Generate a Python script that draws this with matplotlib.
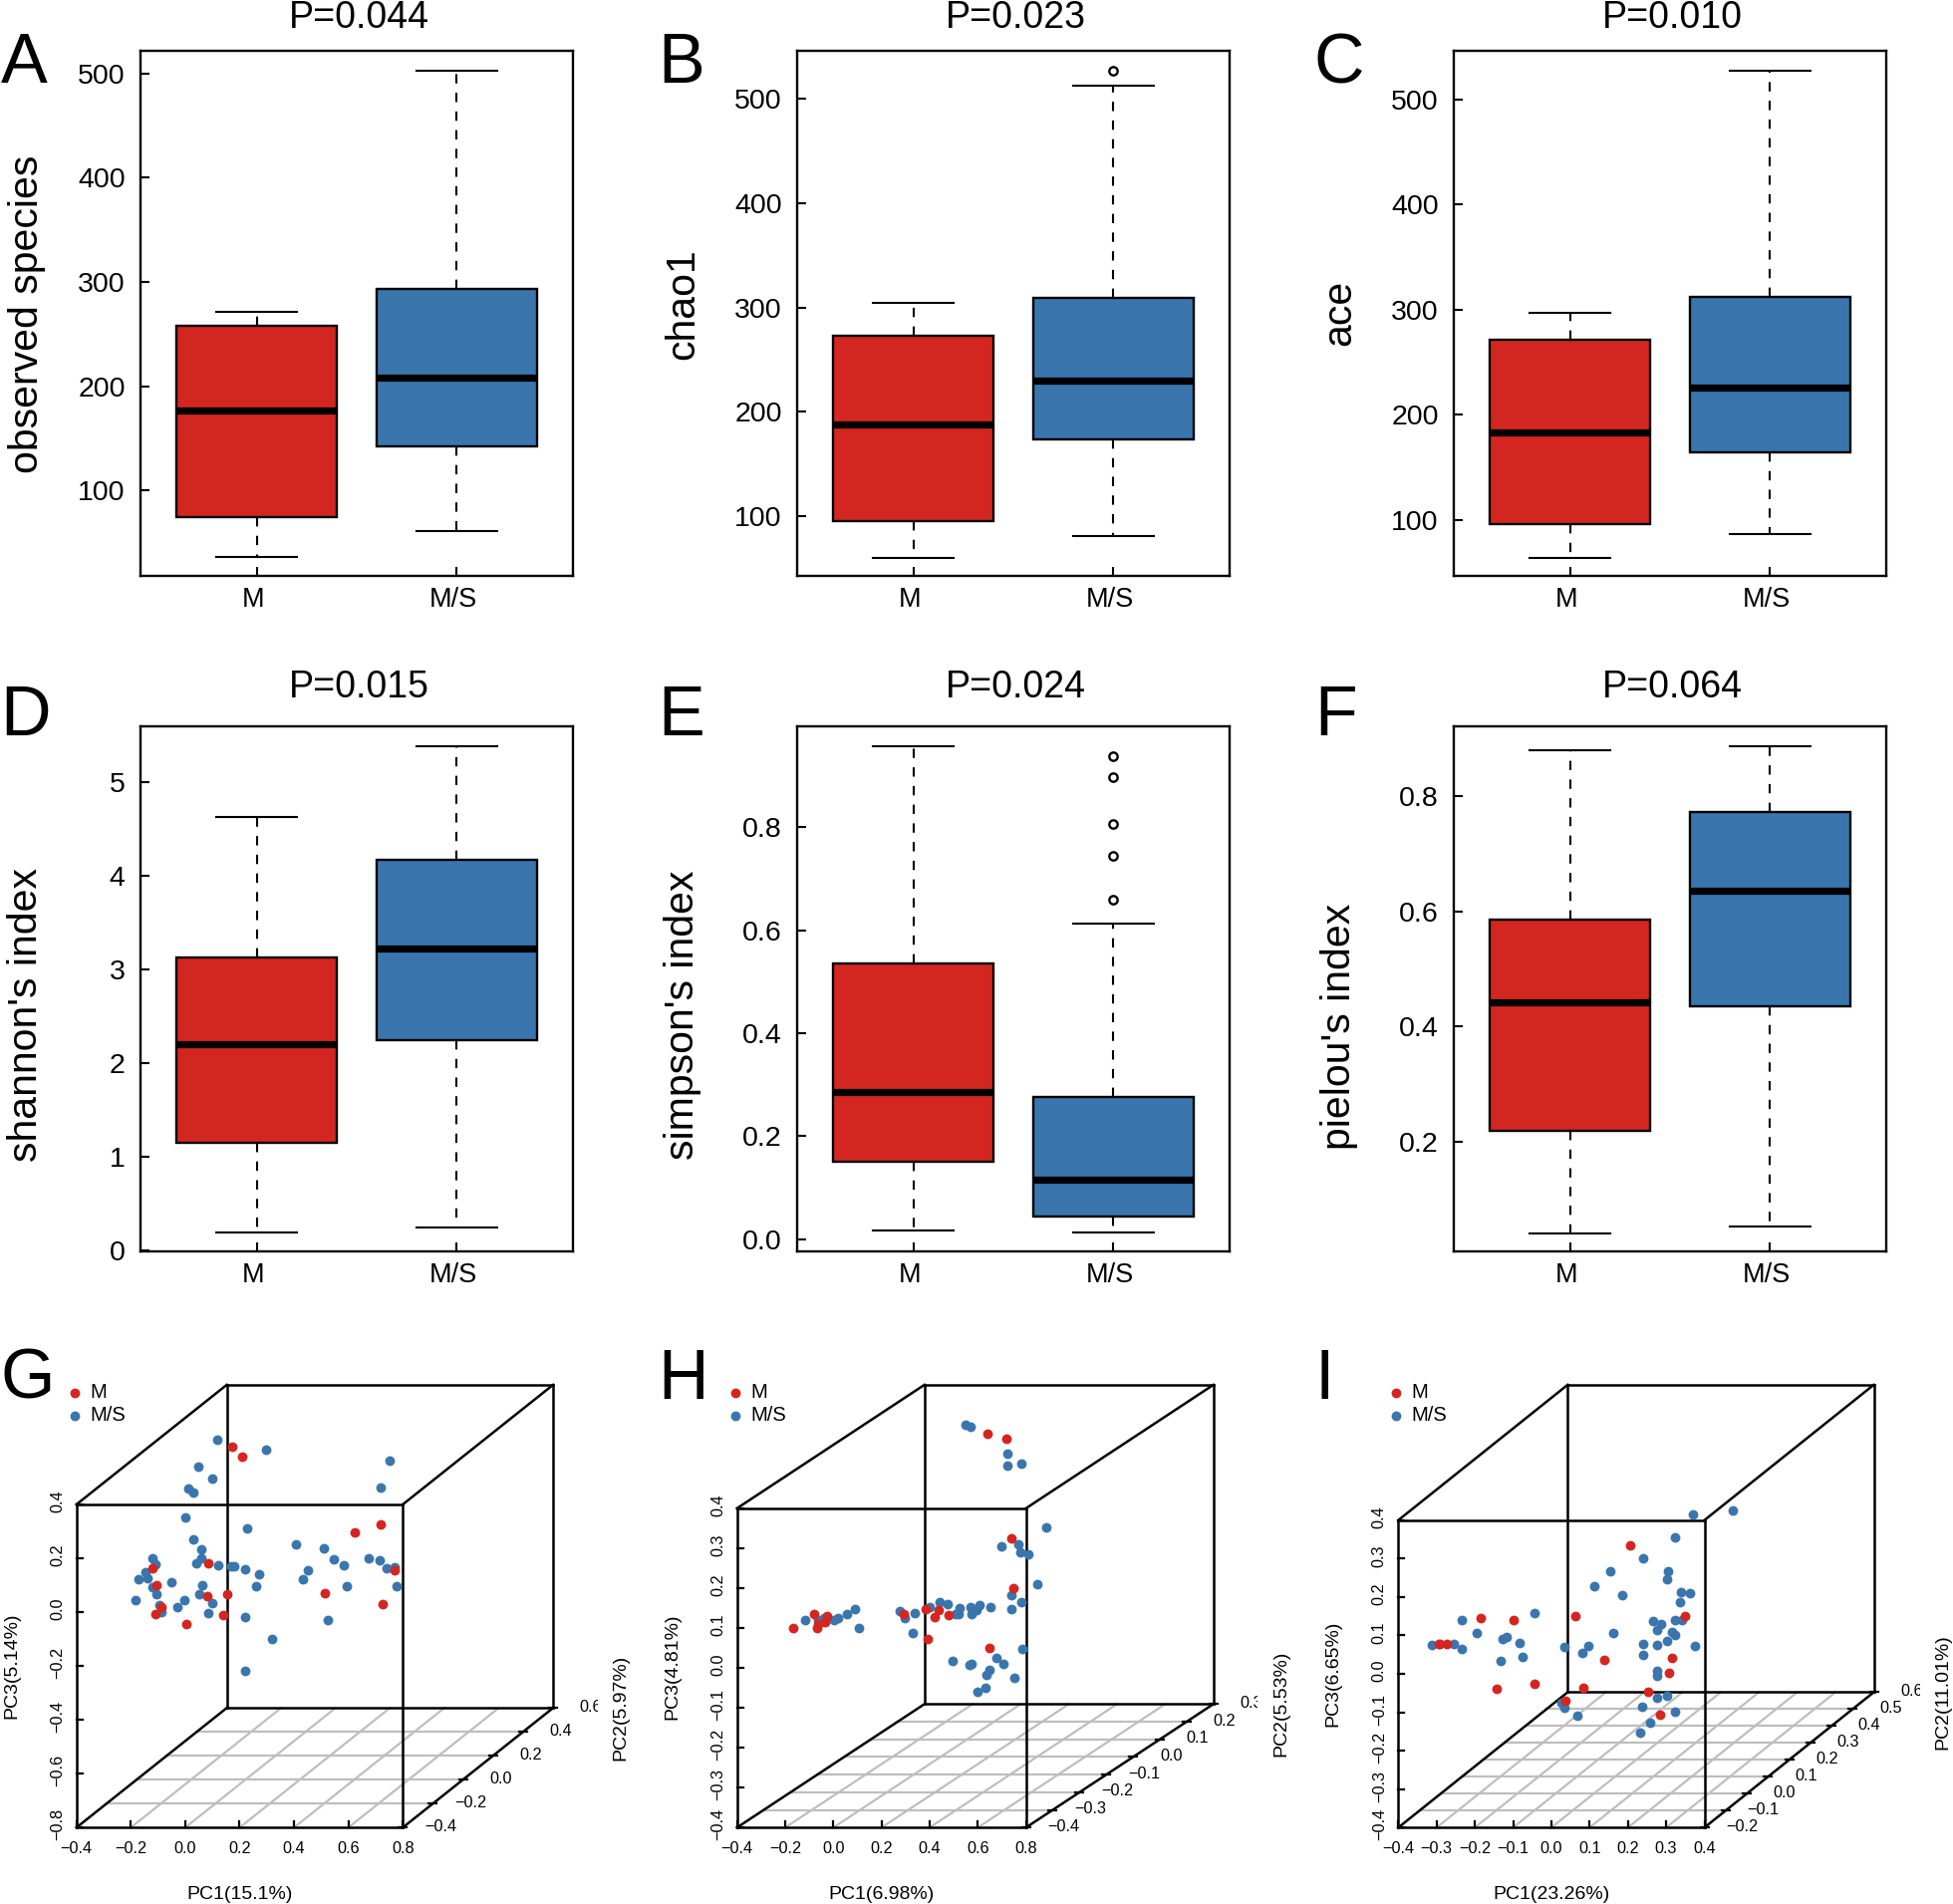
import matplotlib
matplotlib.use('Agg')
import matplotlib.pyplot as plt
from matplotlib.transforms import Affine2D, Bbox, ScaledTranslation

plt.rcParams['font.family'] = ['Liberation Sans', 'DejaVu Sans']

W, H = 1960, 1911
RED = '#D42620'
BLUE = '#3A76AD'

groups = ['M', 'M/S']

# box values: low whisker, q1, median, q3, high whisker
observed_m = [36, 74, 177, 258, 271]
observed_ms = [61, 142, 208, 293, 502]
chao1_m = [60, 95, 188, 273, 304]
chao1_ms = [81, 173, 230, 309, 513]
ace_m = [64, 96, 183, 271, 297]
ace_ms = [86, 164, 226, 312, 527]
shannon_m = [0.19, 1.15, 2.20, 3.13, 4.63]
shannon_ms = [0.25, 2.25, 3.23, 4.17, 5.39]
simpson_m = [0.017, 0.150, 0.286, 0.536, 0.958]
simpson_ms = [0.012, 0.044, 0.116, 0.276, 0.613]
pielou_m = [0.042, 0.220, 0.442, 0.586, 0.880]
pielou_ms = [0.053, 0.435, 0.636, 0.772, 0.887]

chao1_outliers = [527]
simpson_outliers = [0.659, 0.744, 0.807, 0.897, 0.938]

# ordination points, read against the front face of each box
g_m_pc1 = [0.171, 0.208, 0.622, 0.718, 0.085, -0.122, -0.105, 0.080, 0.156, -0.087, -0.110, 0.004, 0.141, 0.514, 0.726, 0.771]
g_m_pc3 = [0.613, 0.576, 0.295, 0.326, 0.180, 0.165, 0.100, 0.061, 0.067, 0.019, -0.006, -0.045, -0.011, 0.070, 0.031, 0.154]
g_ms_pc1 = [0.118, 0.299, 0.048, 0.101, 0.012, 0.028, 0.753, 0.718, 0.001, 0.226, 0.028, 0.060, 0.059, 0.039, 0.121, 0.170, 0.179, 0.221,
            0.270, 0.259, 0.408, 0.511, 0.548, 0.584, 0.675, 0.716, 0.741, 0.770, 0.777, 0.595, 0.452, 0.434, -0.119, -0.108, -0.146, -0.137,
            -0.172, -0.122, -0.049, -0.104, -0.181, -0.096, -0.089, -0.028, -0.004, 0.050, 0.063, 0.098, 0.086, 0.220, 0.524, 0.320, 0.220]
g_ms_pc3 = [0.642, 0.602, 0.539, 0.495, 0.459, 0.444, 0.561, 0.462, 0.352, 0.313, 0.269, 0.234, 0.201, 0.182, 0.175, 0.171, 0.170, 0.161,
            0.140, 0.095, 0.252, 0.238, 0.195, 0.176, 0.199, 0.193, 0.165, 0.166, 0.096, 0.096, 0.156, 0.123, 0.201, 0.178, 0.147, 0.126,
            0.121, 0.093, 0.110, 0.066, 0.043, 0.026, 0.002, 0.018, 0.043, 0.067, 0.102, 0.032, -0.003, -0.017, -0.029, -0.100, -0.218]

h_m_pc1 = [0.642, 0.718, 0.739, 0.746, -0.168, -0.081, -0.025, -0.067, -0.064, -0.034, 0.293, 0.384, 0.438, 0.420, 0.478, 0.393, 0.650]
h_m_pc3 = [0.586, 0.575, 0.324, 0.201, 0.101, 0.135, 0.130, 0.100, 0.111, 0.116, 0.136, 0.147, 0.146, 0.127, 0.133, 0.073, 0.049]
h_ms_pc1 = [0.548, 0.570, 0.722, 0.722, 0.781, 0.884, 0.767, 0.697, 0.778, 0.811, 0.846, 0.739, 0.779, 0.739, 0.654, 0.609, 0.595, 0.574,
            0.570, 0.523, 0.520, 0.506, 0.473, 0.443, 0.400, 0.337, 0.278, 0.297, 0.328, 0.107, 0.088, 0.055, 0.018, 0.004, -0.038, -0.062,
            -0.116, 0.785, 0.677, 0.708, 0.495, 0.567, 0.574, 0.647, 0.635, 0.751, 0.633, 0.600]
h_ms_pc3 = [0.609, 0.604, 0.537, 0.508, 0.513, 0.352, 0.311, 0.305, 0.290, 0.284, 0.210, 0.182, 0.166, 0.148, 0.153, 0.158, 0.145, 0.135,
            0.153, 0.150, 0.134, 0.134, 0.161, 0.165, 0.153, 0.137, 0.142, 0.126, 0.088, 0.101, 0.147, 0.135, 0.126, 0.120, 0.126, 0.120,
            0.119, 0.047, 0.024, 0.010, 0.018, 0.008, 0.009, -0.004, -0.017, -0.024, -0.050, -0.059]

i_m_pc1 = [0.205, 0.348, -0.185, -0.100, 0.062, -0.274, -0.295, 0.137, 0.315, 0.308, -0.144, -0.045, 0.083, 0.253, 0.037, 0.284]
i_m_pc3 = [0.335, 0.150, 0.146, 0.139, 0.151, 0.079, 0.078, 0.036, 0.041, 0.002, -0.038, -0.025, -0.036, -0.046, -0.070, -0.107]
i_ms_pc1 = [0.369, 0.474, 0.323, 0.239, 0.305, 0.303, 0.153, 0.113, 0.185, 0.338, 0.362, 0.337, 0.267, 0.288, 0.275, 0.323, 0.342, 0.315,
            0.323, 0.303, 0.277, 0.239, 0.239, 0.375, 0.163, 0.096, 0.082, 0.035, -0.045, -0.233, -0.194, -0.128, -0.117, -0.084, -0.074,
            -0.132, -0.256, -0.235, -0.313, -0.292, 0.276, 0.277, 0.276, 0.303, 0.237, 0.324, 0.258, 0.232, 0.027, 0.033, 0.069]
i_ms_pc3 = [0.414, 0.425, 0.356, 0.300, 0.268, 0.246, 0.267, 0.229, 0.204, 0.212, 0.211, 0.186, 0.137, 0.129, 0.115, 0.141, 0.140, 0.110,
            0.101, 0.085, 0.075, 0.077, 0.049, 0.074, 0.106, 0.074, 0.055, 0.070, 0.159, 0.139, 0.106, 0.091, 0.096, 0.081, 0.044,
            0.034, 0.077, 0.065, 0.076, 0.077, 0.009, -0.006, -0.061, -0.056, -0.086, -0.099, -0.127, -0.153, -0.076, -0.088, -0.110]

fig = plt.figure(figsize=(W / 100, H / 100), dpi=100)
px = Affine2D().scale(1, -1).translate(0, H)  # y downwards, as in the image


def axes_at(left, top, right, bottom):
    return fig.add_axes([left / W, 1 - bottom / H, (right - left) / W, (bottom - top) / H])


def box_stats(vals, fliers=()):
    return {'whislo': vals[0], 'q1': vals[1], 'med': vals[2], 'q3': vals[3], 'whishi': vals[4], 'fliers': list(fliers)}


def box_panel(col_left, top, m, ms, ylim, yticks, fmt, ylabel, title, letter, letter_x, label_x, label_y,
              title_y, letter_y, fliers=()):
    ax = axes_at(col_left, top, col_left + 434, top + 527)
    res = ax.bxp([box_stats(m), box_stats(ms, fliers)], positions=[1, 2], widths=0.8, capwidths=0.4,
                 patch_artist=True, manage_ticks=False,
                 boxprops=dict(edgecolor='black', linewidth=1.7),
                 medianprops=dict(color='black', linewidth=5.2, solid_capstyle='butt'),
                 whiskerprops=dict(color='black', linewidth=1.5, linestyle=(0, (4.5, 4.5))),
                 capprops=dict(color='black', linewidth=1.5),
                 flierprops=dict(marker='o', markerfacecolor='none', markeredgecolor='black',
                                 markersize=6, markeredgewidth=1.7))
    res['boxes'][0].set_facecolor(RED)
    res['boxes'][1].set_facecolor(BLUE)
    ax.set_xlim(0.42, 2.58)
    ax.set_ylim(*ylim)
    ax.set_xticks([1, 2])
    ax.set_xticklabels(groups)
    ax.set_yticks(yticks)
    ax.set_yticklabels([fmt.format(v) for v in yticks])
    ax.tick_params(axis='y', direction='in', length=6.5, width=1.5, labelsize=20.5, pad=11)
    ax.tick_params(axis='x', direction='in', length=6.5, width=1.5, labelsize=19.5, pad=8)
    shift = ScaledTranslation(-3.5 / 100, 0, fig.dpi_scale_trans)
    for lab in ax.get_xticklabels():
        lab.set_transform(lab.get_transform() + shift)
    for sp in ax.spines.values():
        sp.set_linewidth(1.7)
    ax.set_ylabel(ylabel, fontsize=29.5)
    ax.yaxis.label.set_verticalalignment('center')
    ax.yaxis.set_label_coords(label_x, label_y, transform=px)
    fig.text(col_left + 219, title_y, title, fontsize=27, ha='center', va='baseline', transform=px)
    fig.text(letter_x, letter_y, letter, fontsize=50.5, ha='center', va='baseline', transform=px)
    return ax


box_panel(141, 51, observed_m, observed_ms, (18, 521.5), [100, 200, 300, 400, 500], '{:.0f}',
          'observed species', 'P=0.044', 'A', 24.5, 27, 315, 28, 83)
box_panel(800, 51, chao1_m, chao1_ms, (42.6, 546), [100, 200, 300, 400, 500], '{:.0f}',
          'chao1', 'P=0.023', 'B', 684, 685, 305, 28, 83, fliers=chao1_outliers)
box_panel(1459, 51, ace_m, ace_ms, (46.6, 546), [100, 200, 300, 400, 500], '{:.0f}',
          'ace', 'P=0.010', 'C', 1344, 1344, 314, 28, 83)
box_panel(141, 729, shannon_m, shannon_ms, (-0.01, 5.6), [0, 1, 2, 3, 4, 5], '{:.0f}',
          "shannon's index", 'P=0.015', 'D', 26, 26, 1019, 700, 738)
box_panel(800, 729, simpson_m, simpson_ms, (-0.024, 0.996), [0, 0.2, 0.4, 0.6, 0.8], '{:.1f}',
          "simpson's index", 'P=0.024', 'E', 684, 685, 1019, 700, 738, fliers=simpson_outliers)
box_panel(1459, 729, pielou_m, pielou_ms, (0.0103, 0.921), [0.2, 0.4, 0.6, 0.8], '{:.1f}',
          "pielou's index", 'P=0.064', 'F', 1341, 1344, 1030, 700, 738)


def tick_text(v):
    return f'{v:.1f}'.replace('-', '\u2212')


def ordination_panel(front, back_left, back_top, pc1_ticks, pc2_ticks, pc3_ticks,
                     m_pc1, m_pc3, ms_pc1, ms_pc3, names, name_pos, clip_x, legend_pos, letter, letter_x):
    left, top, right, bottom = front
    ax = axes_at(left, top, right, bottom)
    ax.set_xlim(pc1_ticks[0], pc1_ticks[-1])
    ax.set_ylim(pc3_ticks[0], pc3_ticks[-1])
    ax.axis('off')
    x_span = pc1_ticks[-1] - pc1_ticks[0]
    z_span = pc3_ticks[-1] - pc3_ticks[0]
    # oblique projection: PC2 moves a point up and to the right
    shift_x = (back_left - left) / (right - left) * x_span
    shift_z = (top - back_top) / (bottom - top) * z_span

    def project(pc1, pc2, pc3):
        t = (pc2 - pc2_ticks[0]) / (pc2_ticks[-1] - pc2_ticks[0])
        return pc1 + t * shift_x, pc3 + t * shift_z

    def seg(p, q, **kw):
        a, b = project(*p), project(*q)
        ax.plot([a[0], b[0]], [a[1], b[1]], clip_on=False, solid_capstyle='projecting', **kw)

    x0, x1 = pc1_ticks[0], pc1_ticks[-1]
    y0, y1 = pc2_ticks[0], pc2_ticks[-1]
    z0, z1 = pc3_ticks[0], pc3_ticks[-1]

    # floor grid
    grid = dict(color='#BEBEBE', linewidth=1.6, zorder=1)
    for v in pc1_ticks[1:-1]:
        seg((v, y0, z0), (v, y1, z0), **grid)
    for v in pc2_ticks[1:-1]:
        seg((x0, v, z0), (x1, v, z0), **grid)

    # box frame
    frame = dict(color='black', linewidth=1.8, zorder=2)
    for y in (y0, y1):
        seg((x0, y, z0), (x1, y, z0), **frame)
        seg((x0, y, z1), (x1, y, z1), **frame)
        seg((x0, y, z0), (x0, y, z1), **frame)
        seg((x1, y, z0), (x1, y, z1), **frame)
    for x in (x0, x1):
        for z in (z0, z1):
            seg((x, y0, z), (x, y1, z), **frame)

    ms_pts = ax.scatter(ms_pc1, ms_pc3, s=50, color=BLUE, linewidths=0, clip_on=False, zorder=3, label=groups[1])
    m_pts = ax.scatter(m_pc1, m_pc3, s=50, color=RED, linewidths=0, clip_on=False, zorder=4, label=groups[0])

    # ticks and their labels
    to_px = ax.transData + px.inverted()
    tk = dict(color='black', linewidth=1.6, clip_on=False, zorder=2)
    for v in pc1_ticks:
        xp, yp = to_px.transform((v, z0))
        ax.plot([v, v], [z0, z0 + 6 / (bottom - top) * z_span], **tk)
        fig.text(xp, yp + 21, tick_text(v), fontsize=11.7, ha='center', va='center', transform=px)
    for v in pc3_ticks:
        xp, yp = to_px.transform((x0, v))
        ax.plot([x0, x0 + 6 / (right - left) * x_span], [v, v], **tk)
        fig.text(xp - 19, yp - 3, tick_text(v), fontsize=11.7, rotation=90, ha='center', va='center', transform=px)
    for v in pc2_ticks:
        a = project(x1, v, z0)
        xp, yp = to_px.transform(a)
        pad = 4 / (right - left) * x_span
        ax.plot([a[0] - pad, a[0] + pad], [a[1], a[1]], **tk)
        t = fig.text(xp + 38, yp - 1, tick_text(v), fontsize=11.7, ha='center', va='center', transform=px)
        t.set_clip_box(Bbox([[0, 0], [clip_x, H]]))
        t.set_clip_on(True)

    fig.text(*name_pos[0], names[0], fontsize=14, ha='center', va='center', transform=px)
    fig.text(*name_pos[1], names[1], fontsize=14, rotation=90, ha='center', va='center', transform=px)
    fig.text(*name_pos[2], names[2], fontsize=14, rotation=90, ha='center', va='center', transform=px)

    ax.legend(handles=[m_pts, ms_pts], loc='upper left', bbox_to_anchor=legend_pos, bbox_transform=px,
              frameon=False, fontsize=14.5, borderpad=0, borderaxespad=0, handlelength=0.6,
              handletextpad=0.45, labelspacing=0.2, scatterpoints=1)
    fig.text(letter_x, 1404, letter, fontsize=50.5, ha='center', va='baseline', transform=px)


ordination_panel((76.7, 1510, 404.2, 1834.3), 227.6, 1389.9,
                 [-0.4, -0.2, 0.0, 0.2, 0.4, 0.6, 0.8], [-0.4, -0.2, 0.0, 0.2, 0.4, 0.6],
                 [-0.8, -0.6, -0.4, -0.2, 0.0, 0.2, 0.4],
                 g_m_pc1, g_m_pc3, g_ms_pc1, g_ms_pc3,
                 ['PC1(15.1%)', 'PC3(5.14%)', 'PC2(5.97%)'],
                 [(240.5, 1902), (11.6, 1672), (623, 1714)], 600, (69, 1388), 'G', 28)
ordination_panel((739.6, 1513.9, 1029.6, 1834.3), 927.8, 1389.9,
                 [-0.4, -0.2, 0.0, 0.2, 0.4, 0.6, 0.8], [-0.4, -0.3, -0.2, -0.1, 0.0, 0.1, 0.2, 0.3],
                 [-0.4, -0.3, -0.2, -0.1, 0.0, 0.1, 0.2, 0.3, 0.4],
                 h_m_pc1, h_m_pc3, h_ms_pc1, h_ms_pc3,
                 ['PC1(6.98%)', 'PC3(4.81%)', 'PC2(5.53%)'],
                 [(884.8, 1902), (675, 1673), (1286, 1710)], 1262, (732, 1388), 'H', 686)
ordination_panel((1403.3, 1525.8, 1710.5, 1834.3), 1573.3, 1389.9,
                 [-0.4, -0.3, -0.2, -0.1, 0.0, 0.1, 0.2, 0.3, 0.4], [-0.2, -0.1, 0.0, 0.1, 0.2, 0.3, 0.4, 0.5, 0.6],
                 [-0.4, -0.3, -0.2, -0.1, 0.0, 0.1, 0.2, 0.3, 0.4],
                 i_m_pc1, i_m_pc3, i_ms_pc1, i_ms_pc3,
                 ['PC1(23.26%)', 'PC3(6.65%)', 'PC2(11.01%)'],
                 [(1556.7, 1902), (1338, 1680), (1950, 1698)], 1926.5, (1395, 1388), 'I', 1329)

fig.savefig('out.png', dpi=100)
